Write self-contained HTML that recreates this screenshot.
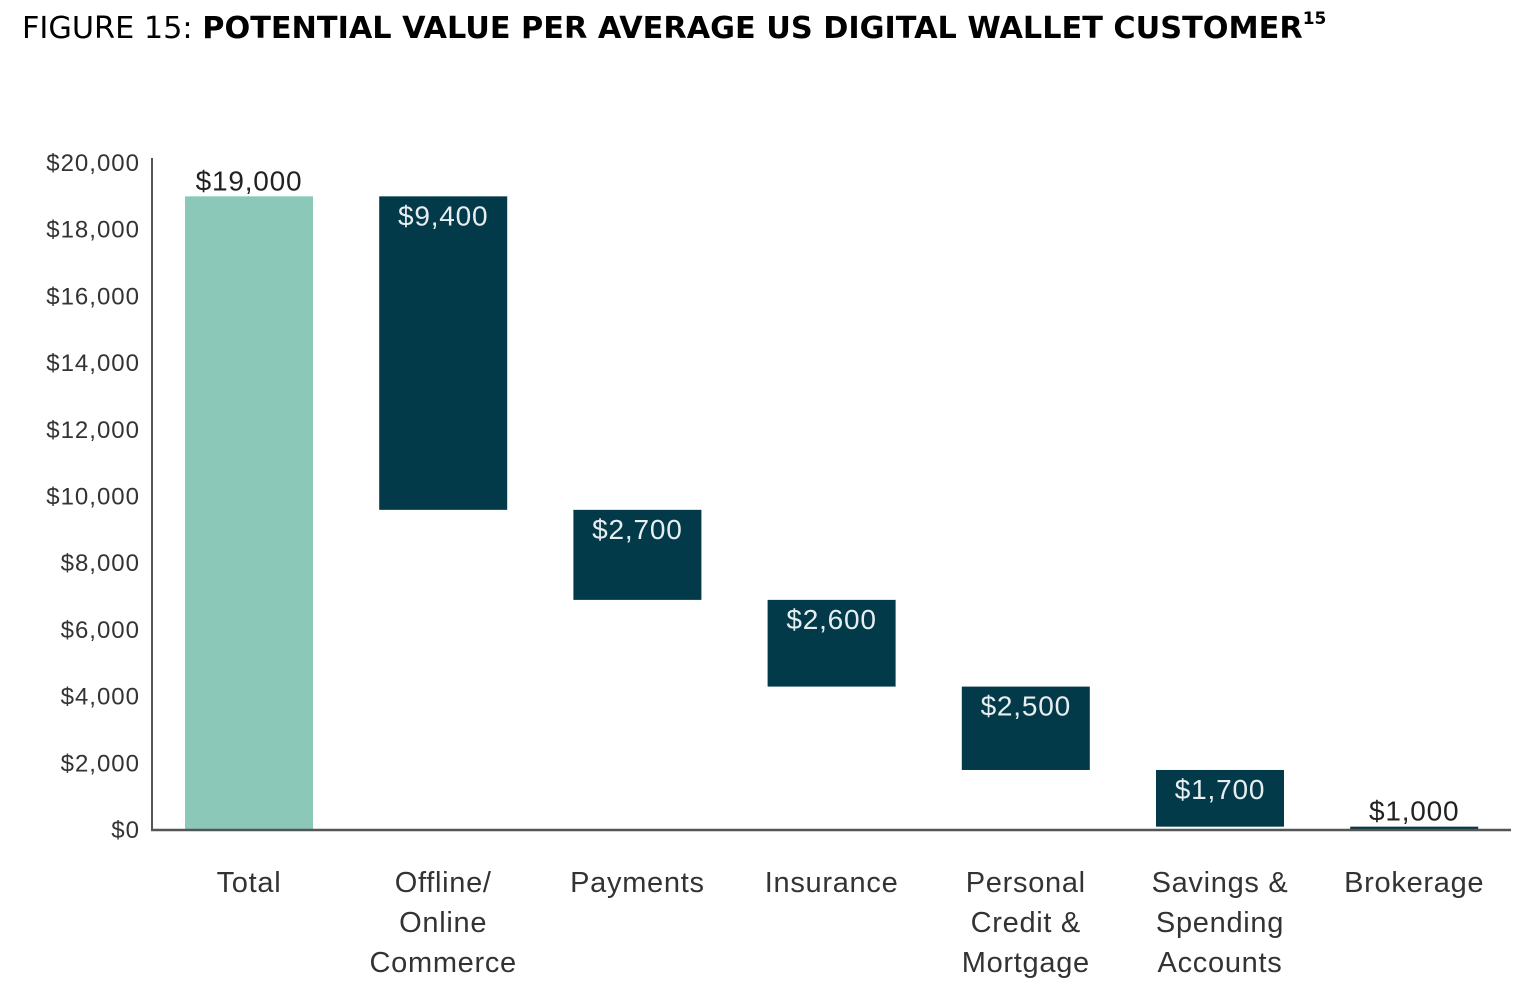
<!DOCTYPE html>
<html><head><meta charset="utf-8">
<style>
html,body{margin:0;padding:0;background:#fff;}
body{width:1534px;height:996px;overflow:hidden;position:relative;}
#title{position:absolute;left:22px;top:11px;font-family:"DejaVu Sans","Liberation Sans",sans-serif;font-size:30.3px;color:#000;white-space:nowrap;}
#title b{font-weight:bold;}
#title sup{font-size:17px;vertical-align:top;position:relative;top:-2px;}
svg{position:absolute;left:0;top:0;}
</style></head>
<body>
<div id="title">FIGURE 15: <b>POTENTIAL VALUE PER AVERAGE US DIGITAL WALLET CUSTOMER<sup>15</sup></b></div>
<svg id="chart" width="1534" height="996"></svg>
<script>
const categories = [["Total"],["Offline/","Online","Commerce"],["Payments"],["Insurance"],["Personal","Credit &","Mortgage"],["Savings &","Spending","Accounts"],["Brokerage"]];
const values = [19000, 9400, 2700, 2600, 2500, 1700, 1000];
const valueLabels = ["$19,000","$9,400","$2,700","$2,600","$2,500","$1,700","$1,000"];
const yTicks = [0,2000,4000,6000,8000,10000,12000,14000,16000,18000,20000];
const yTickLabels = ["$0","$2,000","$4,000","$6,000","$8,000","$10,000","$12,000","$14,000","$16,000","$18,000","$20,000"];

const svg = document.getElementById('chart');
const NS = 'http://www.w3.org/2000/svg';
const y0 = 830, y1 = 163;
function y(v){ return y0 - (v/20000)*(y0-y1); }
function xc(i){ return 249 + i*194.2; }
const barW = 128;
function mk(tag, attrs){ const e=document.createElementNS(NS,tag); for(const k in attrs) e.setAttribute(k,attrs[k]); svg.appendChild(e); return e; }

yTicks.forEach((t,i)=>{
  const tx = mk('text',{x:140,y:y(t)+8,'text-anchor':'end','font-family':'"Liberation Sans",sans-serif','font-size':24,'letter-spacing':1,fill:'#333'});
  tx.textContent = yTickLabels[i];
  
  
});

let running = values[0];
values.forEach((v,i)=>{
  let top, bot, color;
  if(i===0){ top=v; bot=0; color='#8cc8b8'; }
  else { top=Math.max(running,100); bot=Math.max(0,running-v); running=running-v; color='#023a4a'; if(top-bot<100) bot=top-100; }
  const r = mk('rect',{x:xc(i)-barW/2,y:y(top),width:barW,height:Math.max(4,y(bot)-y(top)),fill:color});
  
  
  const outside = (i===0 || i===values.length-1);
  const ly = outside ? y(top)-6 : y(top)+29;
  const lt = mk('text',{x:xc(i),y:ly,'text-anchor':'middle','font-family':'"Liberation Sans",sans-serif','font-size':28,'letter-spacing':0.8,fill: outside ? '#222' : '#e8eef0'});
  lt.textContent = valueLabels[i];
  
  
  categories[i].forEach((line,j)=>{
    const ct = mk('text',{x:xc(i),y:892+j*40,'text-anchor':'middle','font-family':'"Liberation Sans",sans-serif','font-size':29,'letter-spacing':0.7,fill:'#333'});
    ct.textContent = line;
    
    
  });
});

const ya = mk('line',{x1:152,y1:158,x2:152,y2:831,stroke:'#555','stroke-width':2});


const xa = mk('line',{x1:151,y1:830,x2:1511,y2:830,stroke:'#555','stroke-width':2.5});


</script>
</body></html>
